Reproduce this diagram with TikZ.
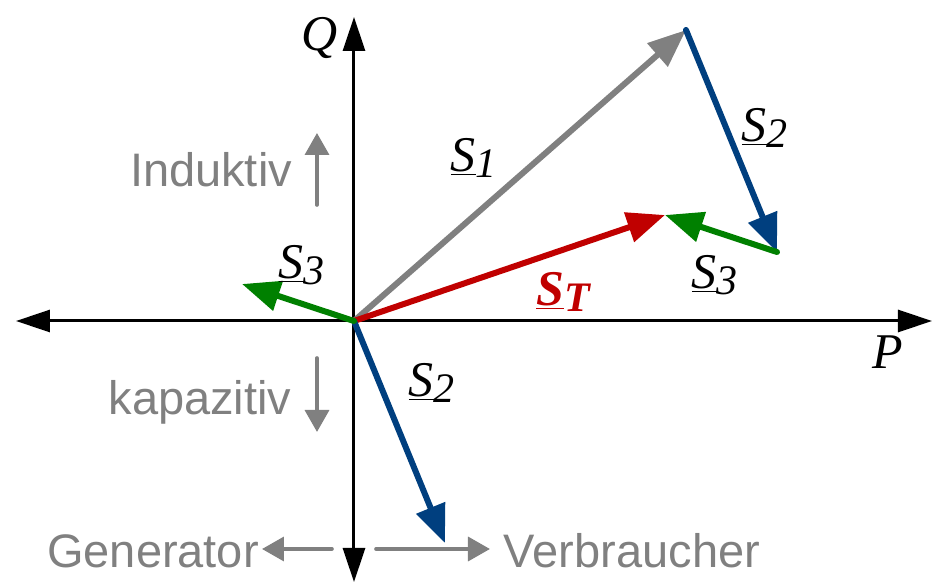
\documentclass[tikz,border=0pt]{standalone}
\usepackage{fontspec}
\setmainfont{Liberation Serif}
\setsansfont{Liberation Sans}
\usetikzlibrary{arrows.meta}
\definecolor{pqGray}{HTML}{808080}
\definecolor{pqBlue}{HTML}{003F7F}
\definecolor{pqGreen}{HTML}{008000}
\definecolor{pqRed}{HTML}{C00000}
\tikzset{
  pq axis/.style={draw=black, line width=1.5pt, {Triangle[length=17pt,width=11pt]}-{Triangle[length=17pt,width=11pt]}},
  pq vec/.style={line width=3pt, line cap=round, -{Triangle[length=19pt,width=15pt]}},
  pq hint/.style={draw=pqGray, line width=1.8pt, line cap=round, -{Triangle[length=11pt,width=12pt]}},
  pq label/.style={font=\fontsize{25}{30}\selectfont\itshape, inner sep=1pt},
  pq text/.style={font=\sffamily\fontsize{23.5}{28}\selectfont, text=pqGray, inner sep=0pt},
}
\newcommand{\phasor}[1]{\underline{S}\raisebox{-0.12em}{\fontsize{21}{24}\selectfont #1}}

\begin{document}
\begin{tikzpicture}[x=0.5pt,y=0.5pt]
  \useasboundingbox (-354,-263) rectangle (580,321);
  % axes
  \coordinate (O) at (0,0);
  \coordinate (pl) at (-338,0);
  \coordinate (pr) at (578,0);
  \coordinate (qt) at (0,304);
  \coordinate (qb) at (0,-261);
  \draw[pq axis] (pl) -- (pr);
  \draw[pq axis] (qb) -- (qt);
  \node[pq label] (Q) at (-34,283) {Q};
  \node[pq label] (P) at (534,-31) {P};
  % phasors
  \coordinate (A) at (332,291);
  \coordinate (B) at (423,69);
  \coordinate (C) at (311,106);
  \coordinate (S2end) at (91,-222);
  \coordinate (S3end) at (-112,37);
  \draw[pq vec, pqGray] (O) -- (A);
  \draw[pq vec, pqBlue] (A) -- (B);
  \draw[pq vec, pqGreen] (B) -- (C);
  \draw[pq vec, pqRed] (O) -- (C);
  \draw[pq vec, pqBlue] (O) -- (S2end);
  \draw[pq vec, pqGreen] (O) -- (S3end);
  \node[pq label] (s1) at (120,163) {\phasor{1}};
  \node[pq label] (s2a) at (411,193) {\phasor{2}};
  \node[pq label] (s3a) at (361,46) {\phasor{3}};
  \node[pq label, text=pqRed, font=\fontsize{25}{30}\selectfont\itshape\bfseries] (sT) at (209,29) {\phasor{T}};
  \node[pq label] (s3b) at (-52,56) {\phasor{3}};
  \node[pq label] (s2b) at (78,-62) {\phasor{2}};
  % hints
  \node[pq text] (ind) at (-143,151) {Induktiv};
  \node[pq text] (kap) at (-154,-81) {kapazitiv};
  \node[pq text] (gen) at (-201,-230) {Generator};
  \node[pq text] (ver) at (278,-230) {Verbraucher};
  \coordinate (i0) at (-37,116);
  \coordinate (i1) at (-37,188);
  \coordinate (k0) at (-37,-37);
  \coordinate (k1) at (-37,-111);
  \coordinate (g0) at (-22,-228);
  \coordinate (g1) at (-92,-228);
  \coordinate (v0) at (22,-228);
  \coordinate (v1) at (136,-228);
  \draw[pq hint] (i0) -- (i1);
  \draw[pq hint] (k0) -- (k1);
  \draw[pq hint] (g0) -- (g1);
  \draw[pq hint] (v0) -- (v1);
\end{tikzpicture}
\end{document}
